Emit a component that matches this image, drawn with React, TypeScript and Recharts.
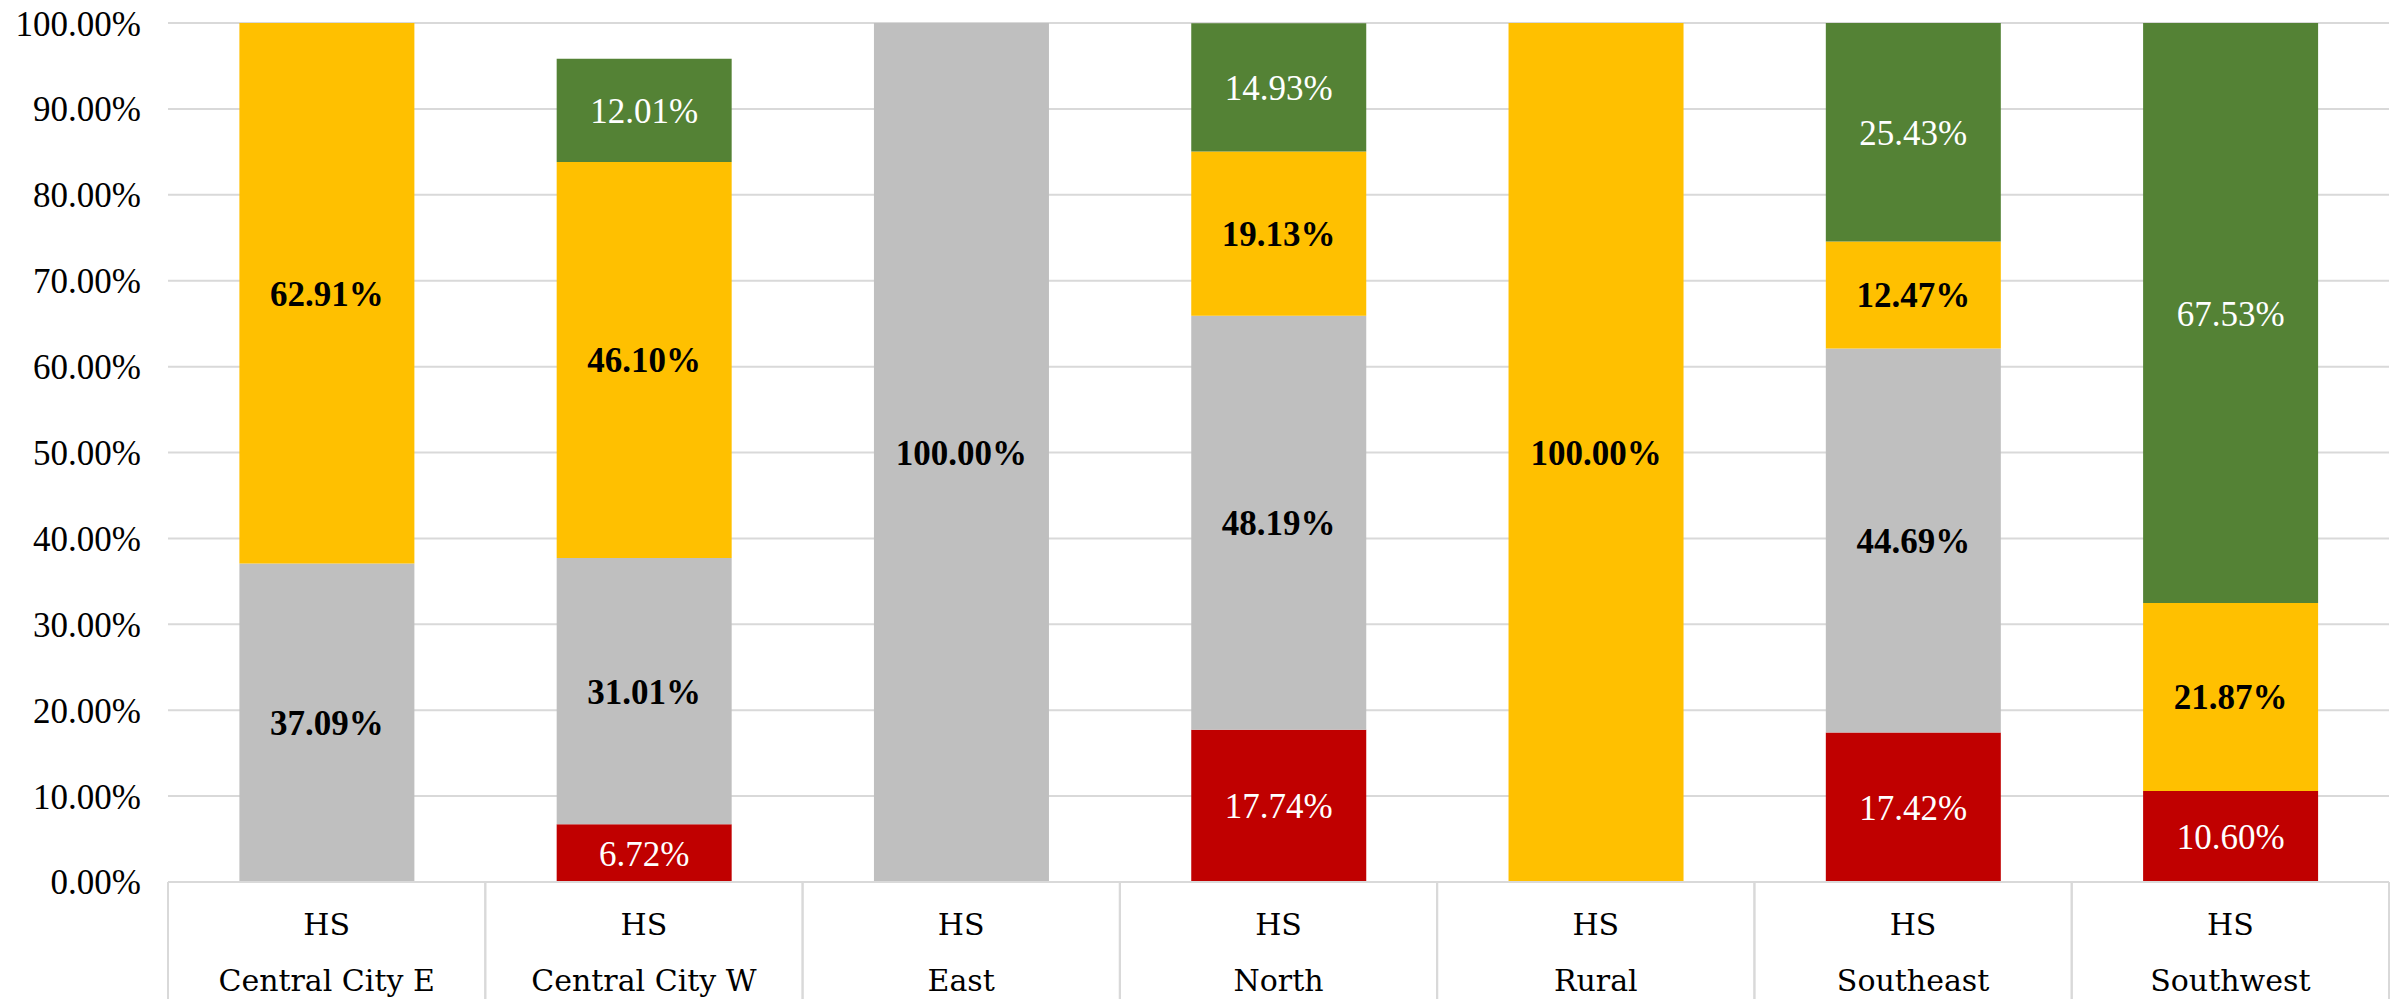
import { BarChart, Bar, XAxis, YAxis, CartesianGrid, LabelList } from 'recharts';

const schools = ['Central City E', 'Central City W', 'East', 'North', 'Rural', 'Southeast', 'Southwest'];
const level = 'HS';
const redShare = [0, 6.72, 0, 17.74, 0, 17.42, 10.6];
const grayShare = [37.09, 31.01, 100, 48.19, 0, 44.69, 0];
const yellowShare = [62.91, 46.1, 0, 19.13, 100, 12.47, 21.87];
const greenShare = [0, 12.01, 0, 14.93, 0, 25.43, 67.53];
const yTicks = [0, 10, 20, 30, 40, 50, 60, 70, 80, 90, 100];

const FONT = '"Liberation Serif", serif';
const NAME_FONT = '"DejaVu Serif", serif';
const GRID = '#d9d9d9';

const data = schools.map((name, i) => ({
  name,
  red: redShare[i],
  gray: grayShare[i],
  yellow: yellowShare[i],
  green: greenShare[i],
}));

const pct = (v: any) => `${Number(v).toFixed(2)}%`;
const labelFmt = (v: any) => (Number(v) > 0 ? pct(v) : '');

function SchoolTick(props: any) {
  const { x, y, payload } = props;
  const half = payload.offset ?? 158.6;
  return (
    <g>
      <line x1={x - half} x2={x - half} y1={y} y2={y + 120} stroke={GRID} strokeWidth={2} />
      <line x1={x + half} x2={x + half} y1={y} y2={y + 120} stroke={GRID} strokeWidth={2} />
      <text x={x} y={y + 53} textAnchor="middle" fill="#000" fontSize={30} fontFamily={NAME_FONT}>
        {level}
      </text>
      <text x={x} y={y + 109} textAnchor="middle" fill="#000" fontSize={30} fontFamily={NAME_FONT}>
        {payload.value}
      </text>
    </g>
  );
}

export default function App() {
  return (
    <div style={{ position: 'absolute', left: 0, top: 0, background: '#fff' }}>
      <BarChart
        width={2397}
        height={999}
        data={data}
        margin={{ top: 23, right: 8, left: 0, bottom: 0 }}
        barCategoryGap="22.5%"
      >
        <CartesianGrid vertical={false} stroke={GRID} strokeWidth={2} />
        <XAxis
          dataKey="name"
          height={117}
          interval={0}
          tickLine={false}
          tickSize={0}
          tickMargin={0}
          axisLine={{ stroke: GRID, strokeWidth: 2 }}
          tick={<SchoolTick />}
        />
        <YAxis
          width={168}
          domain={[0, 100]}
          ticks={yTicks}
          tickFormatter={pct}
          axisLine={false}
          tickLine={false}
          tickSize={0}
          tickMargin={27}
          tick={{ fill: '#000', fontSize: 35, fontFamily: FONT }}
        />
        <Bar dataKey="red" stackId="s" fill="#C00000" isAnimationActive={false}>
          <LabelList dataKey="red" position="center" formatter={labelFmt} fill="#fff" fontSize={35} fontFamily={FONT} />
        </Bar>
        <Bar dataKey="gray" stackId="s" fill="#BFBFBF" isAnimationActive={false}>
          <LabelList dataKey="gray" position="center" formatter={labelFmt} fill="#000" fontSize={35} fontWeight="bold" fontFamily={FONT} />
        </Bar>
        <Bar dataKey="yellow" stackId="s" fill="#FFC000" isAnimationActive={false}>
          <LabelList dataKey="yellow" position="center" formatter={labelFmt} fill="#000" fontSize={35} fontWeight="bold" fontFamily={FONT} />
        </Bar>
        <Bar dataKey="green" stackId="s" fill="#548235" isAnimationActive={false}>
          <LabelList dataKey="green" position="center" formatter={labelFmt} fill="#fff" fontSize={35} fontFamily={FONT} />
        </Bar>
      </BarChart>
    </div>
  );
}
